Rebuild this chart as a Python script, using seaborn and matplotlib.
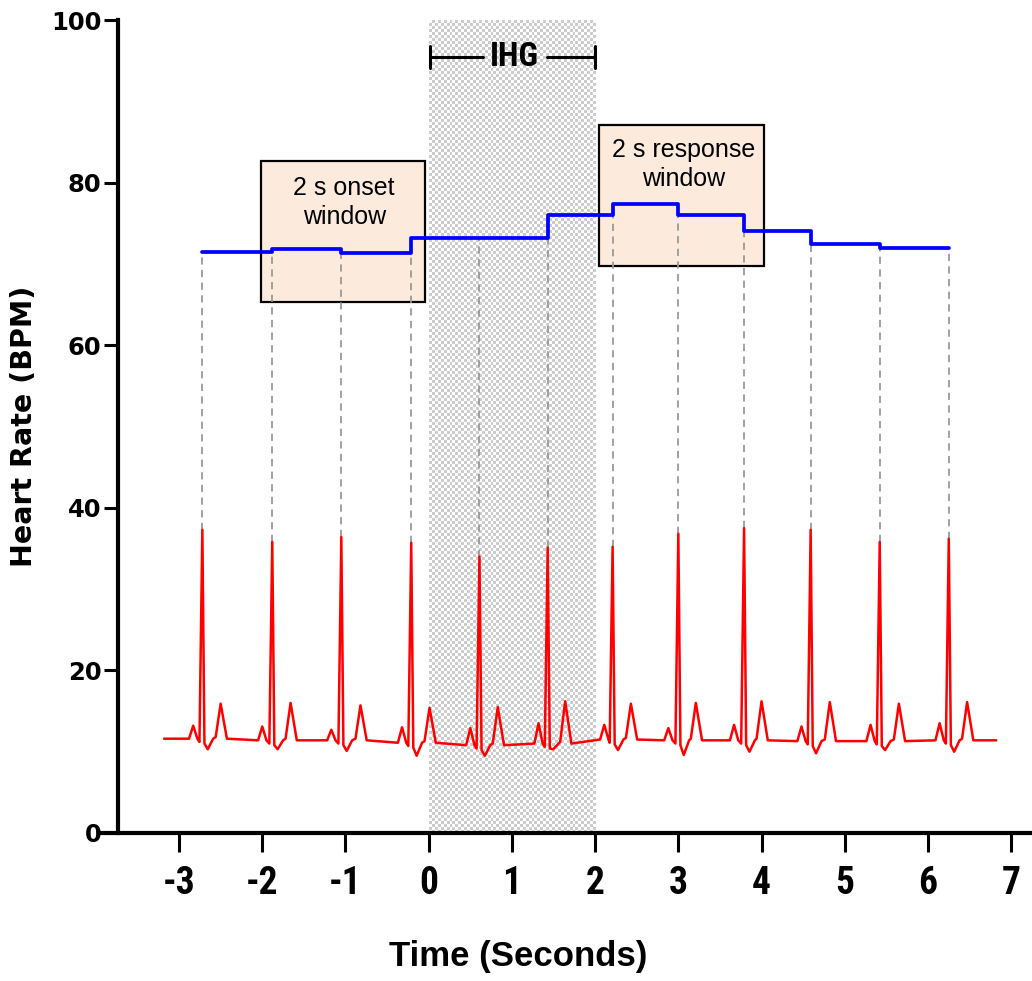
import numpy as np
import pandas as pd
import matplotlib
matplotlib.use("Agg")
import matplotlib.pyplot as plt
import seaborn as sns

# ---------------- data ----------------
r_times   = [-2.72, -1.88, -1.05, -0.21, 0.61, 1.43, 2.21, 3.00, 3.79, 4.59, 5.42, 6.25]
r_heights = [37.3, 35.8, 36.4, 35.7, 34.0, 35.1, 35.2, 36.8, 37.5, 37.3, 35.8, 36.2]
p_times   = [-2.83, -2.00, -1.17, -0.32, 0.50, 1.32, 2.11, 2.88, 3.67, 4.48, 5.31, 6.14]
p_heights = [13.2, 13.1, 12.7, 13.0, 12.9, 13.5, 13.3, 12.9, 13.3, 13.1, 13.3, 13.5]
t_times   = [-2.50, -1.66, -0.82, 0.01, 0.83, 1.64, 2.43, 3.21, 4.00, 4.82, 5.65, 6.47]
t_heights = [15.9, 16.0, 15.7, 15.4, 15.5, 16.2, 15.9, 16.0, 16.2, 16.1, 15.9, 16.1]
s_heights = [10.3, 10.3, 10.1, 9.5, 9.5, 10.3, 10.2, 9.6, 10.0, 9.8, 10.2, 10.0]
baselines = [11.6, 11.4, 11.4, 11.1, 10.8, 11.0, 11.5, 11.4, 11.4, 11.3, 11.3, 11.4]
ecg_start, ecg_end, ecg_end_base = -3.18, 6.82, 11.4

# heart rate (blue step line), value from each R peak onwards
hr_values = [71.5, 71.8, 71.3, 73.2, 73.2, 76.0, 77.4, 76.0, 74.0, 72.5, 71.9, 71.9]

x_ticks = [-3, -2, -1, 0, 1, 2, 3, 4, 5, 6, 7]
y_ticks = [0, 20, 40, 60, 80, 100]

ihg_span = (0, 2)
onset_box = (-2.02, 65.35, 1.98, 17.25)      # x, y, width, height
response_box = (2.05, 69.8, 1.98, 17.3)

# ---------------- build ECG trace from key points ----------------
ecg_x = [ecg_start]
ecg_y = [baselines[0]]
for i in range(len(r_times)):
    b = baselines[i]
    P, R, T = p_times[i], r_times[i], t_times[i]
    ecg_x += [P - 0.05, P, P + 0.05, R - 0.035, R, R + 0.025, R + 0.065, R + 0.13,
              T - 0.06, T, T + 0.075]
    ecg_y += [b, p_heights[i], b, b - 0.4, r_heights[i], b - 0.6, s_heights[i], b,
              b + 0.2, t_heights[i], b]
ecg_x.append(ecg_end)
ecg_y.append(ecg_end_base)
ecg = pd.DataFrame({"time": ecg_x, "mv": ecg_y})
hr = pd.DataFrame({"time": r_times, "hr": hr_values})

# ---------------- style ----------------
sns.set_theme(style="white")
plt.rcParams["font.family"] = ["Liberation Sans", "DejaVu Sans"]
plt.rcParams["text.color"] = "black"
plt.rcParams["axes.labelcolor"] = "black"
NARROW = ["Roboto Condensed", "Liberation Sans"]

fig = plt.figure(figsize=(10.32, 9.81), dpi=100)
ax = fig.add_axes([102 / 1032, 148 / 981, 928 / 1032, 813 / 981])

# checkered IHG region
ny, nx = 271, 57
checker = (np.add.outer(np.arange(ny), np.arange(nx)) % 2).astype(float)
rgb = np.ones((ny, nx, 3))
rgb[checker == 1] = [0.80, 0.80, 0.80]
ax.imshow(rgb, extent=(ihg_span[0], ihg_span[1], 0, 100), aspect="auto",
          interpolation="nearest", zorder=0)

# window boxes
for (bx, by, bw, bh) in [onset_box, response_box]:
    ax.add_patch(plt.Rectangle((bx, by), bw, bh, facecolor="#FCEBDD",
                               edgecolor="black", lw=1.6, zorder=1))

# dashed lines from R peak to HR line
ax.vlines(r_times, r_heights, hr_values, colors="#9a9a9a",
          linestyles=(0, (4, 3)), lw=1.3, zorder=2)

# ECG trace
sns.lineplot(data=ecg, x="time", y="mv", ax=ax, color="#FF0000", lw=1.8,
             sort=False, zorder=3)
# HR step line
sns.lineplot(data=hr, x="time", y="hr", ax=ax, color="#0000FF", lw=2.7,
             drawstyle="steps-post", zorder=4)

# box texts
ax.text(-1.015, 77.55, "2 s onset\nwindow", ha="center", va="center",
        fontsize=18, linespacing=1.25, color="black", zorder=5)
ax.text(3.058, 82.2, "2 s response\nwindow", ha="center", va="center",
        fontsize=18, linespacing=1.25, color="black", zorder=5)

# IHG bracket
yb = 95.4
ax.plot([0.014, 0.648], [yb, yb], color="black", lw=2.2, zorder=5)
ax.plot([1.417, 1.997], [yb, yb], color="black", lw=2.2, zorder=5)
ax.plot([0.014, 0.014], [yb - 1.35, yb + 1.35], color="black", lw=2.2, zorder=5)
ax.plot([1.997, 1.997], [yb - 1.35, yb + 1.35], color="black", lw=2.2, zorder=5)
ax.text(1.035, yb, "IHG", ha="center", va="center", fontsize=24,
        fontweight="bold", family=NARROW, color="black", zorder=5)

ax.set_xlim(-3.926, 7.226)
ax.set_ylim(0, 100)

# axes styling
sns.despine(ax=ax, top=True, right=True)
ax.spines["left"].set_position(("data", -3.734))
for s in ("left", "bottom"):
    ax.spines[s].set_linewidth(3)
    ax.spines[s].set_color("black")
    ax.spines[s].set_capstyle("projecting")

ax.set_yticks(y_ticks)
ax.set_yticklabels([str(v) for v in y_ticks], fontsize=17.5, fontweight="bold",
                   family=["DejaVu Sans"])
ax.set_xticks(x_ticks)
ax.set_xticklabels([str(v) for v in x_ticks], fontsize=27, fontweight="bold",
                   family=NARROW)
ax.tick_params(axis="y", left=True, direction="out", length=10, width=2.2,
               pad=2, colors="black")
ax.tick_params(axis="x", bottom=True, direction="out", length=14, width=2.2,
               pad=9, colors="black")

ax.set_xlabel("Time (Seconds)", fontsize=25, fontweight="bold", color="black")
ax.xaxis.set_label_coords(0.448, -0.132)
ax.set_ylabel("Heart Rate (BPM)", fontsize=20.5, fontweight="bold", color="black",
              family=["DejaVu Sans"])
ax.yaxis.set_label_coords(-0.069, 0.5)
ax.grid(False)

fig.savefig("out.png", dpi=100)
